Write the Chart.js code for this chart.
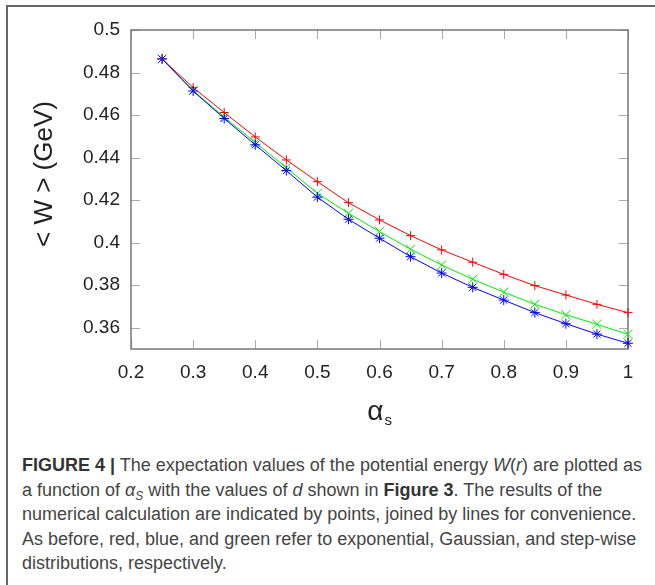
<!DOCTYPE html>
<html>
<head>
<meta charset="utf-8">
<script src="https://cdn.jsdelivr.net/npm/chart.js@4"></script>
<style>
    body { margin: 0; background: #fff; }
    #frame { position: absolute; left: 6px; top: 5px; width: 700px; height: 700px;
             border-left: 2px solid #666; border-top: 2px solid #666; }
    #wrap { position: absolute; left: 0; top: 0; width: 655px; height: 440px; }
    #caption { position: absolute; left: 22px; top: 453px; font-family: "Liberation Sans", Arial, sans-serif;
               font-size: 18px; line-height: 24.5px; color: #444; white-space: nowrap; }
    #caption b { color: #333; }
    #caption sub { font-size: 12px; line-height: 0; vertical-align: baseline; position: relative; top: 4px; }
</style>
</head>
<body>
<div id="frame"></div>
<div id="wrap"><canvas id="wChart"></canvas></div>
<div id="caption">
<b>FIGURE 4 |</b> The expectation values of the potential energy <i>W</i>(<i>r</i>) are plotted as<br>
a function of <i>α<sub>S</sub></i> with the values of <i>d</i> shown in <b>Figure 3</b>. The results of the<br>
numerical calculation are indicated by points, joined by lines for convenience.<br>
As before, red, blue, and green refer to exponential, Gaussian, and step-wise<br>
distributions, respectively.
</div>
<script>
const alphaS = [0.25, 0.3, 0.35, 0.4, 0.45, 0.5, 0.55, 0.6, 0.65, 0.7, 0.75, 0.8, 0.85, 0.9, 0.95, 1.0];
const expW   = [0.4864, 0.4729, 0.4612, 0.4497, 0.4389, 0.4287, 0.4188, 0.4107, 0.4033, 0.3966, 0.3908, 0.3851, 0.3798, 0.3754, 0.3710, 0.3671];
const stepW  = [0.4864, 0.4716, 0.4590, 0.4471, 0.4353, 0.4232, 0.4138, 0.4052, 0.3969, 0.3895, 0.3828, 0.3767, 0.3710, 0.3661, 0.3616, 0.3569];
const gaussW = [0.4864, 0.4713, 0.4584, 0.4460, 0.4339, 0.4214, 0.4110, 0.4021, 0.3934, 0.3857, 0.3790, 0.3730, 0.3671, 0.3619, 0.3570, 0.3527];
const xTicks = [0.2, 0.3, 0.4, 0.5, 0.6, 0.7, 0.8, 0.9, 1];
const yTicks = [0.36, 0.38, 0.4, 0.42, 0.44, 0.46, 0.48, 0.5];

const toPoints = arr => alphaS.map((x, i) => ({x: x, y: arr[i]}));

// gnuplot style box with inward ticks on all four sides
const boxTicks = {
    id: 'boxTicks',
    beforeDatasetsDraw(chart) {
        const {ctx, chartArea: a, scales: {x, y}} = chart;
        ctx.save();
        ctx.strokeStyle = '#aaa';
        ctx.lineWidth = 1;
        ctx.beginPath();
        xTicks.forEach(v => {
            const px = Math.round(x.getPixelForValue(v)) + 0.5;
            ctx.moveTo(px, a.bottom); ctx.lineTo(px, a.bottom - 9);
            ctx.moveTo(px, a.top); ctx.lineTo(px, a.top + 9);
        });
        yTicks.forEach(v => {
            const py = Math.round(y.getPixelForValue(v)) + 0.5;
            ctx.moveTo(a.left, py); ctx.lineTo(a.left + 9, py);
            ctx.moveTo(a.right, py); ctx.lineTo(a.right - 9, py);
        });
        ctx.stroke();
        ctx.strokeStyle = '#777';
        ctx.lineWidth = 1.5;
        ctx.strokeRect(a.left, a.top, a.right - a.left, a.bottom - a.top);
        ctx.restore();
    },
    afterDraw(chart) {
        const {ctx, chartArea: a} = chart;
        ctx.save();
        ctx.fillStyle = '#222';
        ctx.textAlign = 'center';
        ctx.textBaseline = 'middle';
        ctx.font = '26px "Liberation Sans", Arial, sans-serif';
        ctx.translate(45, 174);
        ctx.rotate(-Math.PI / 2);
        ctx.fillText('< W > (GeV)', 0, 0);
        ctx.restore();

        ctx.save();
        ctx.fillStyle = '#222';
        ctx.textBaseline = 'alphabetic';
        const cx = (a.left + a.right) / 2;
        ctx.font = '28px "Liberation Sans", Arial, sans-serif';
        ctx.textAlign = 'right';
        ctx.fillText('α', cx + 4, 420);
        ctx.font = '15px "Liberation Sans", Arial, sans-serif';
        ctx.textAlign = 'left';
        ctx.fillText('s', cx + 5, 425);
        ctx.restore();
    }
};

const tickFont = {family: '"Liberation Sans", Arial, sans-serif', size: 19};

new Chart(document.getElementById('wChart'), {
    type: 'line',
    data: {
        datasets: [{
            label: 'Gaussian',
            data: toPoints(gaussW),
            borderColor: '#0000ff',
            pointStyle: 'star',
            pointRadius: 5
        }, {
            label: 'step-wise',
            data: toPoints(stepW),
            borderColor: '#00ee00',
            pointStyle: 'crossRot',
            pointRadius: 6.5
        }, {
            label: 'exponential',
            data: toPoints(expW),
            borderColor: '#ff0000',
            pointStyle: 'cross',
            pointRadius: 4.5
        }].map(d => Object.assign(d, {
            borderWidth: 1,
            pointBorderColor: d.borderColor,
            pointBackgroundColor: d.borderColor,
            pointBorderWidth: 1,
            tension: 0,
            clip: false
        }))
    },
    options: {
        responsive: true,
        maintainAspectRatio: false,
        animation: false,
        layout: {padding: {top: 30, right: 27, left: 0, bottom: 0}},
        plugins: {legend: {display: false}, tooltip: {enabled: false}},
        scales: {
            x: {
                type: 'linear',
                min: 0.2,
                max: 1,
                afterBuildTicks: s => { s.ticks = xTicks.map(v => ({value: v})); },
                afterFit: s => { s.height = 440 - 349; },
                grid: {display: false, drawTicks: false},
                border: {display: false},
                ticks: {color: '#222', font: tickFont, padding: 12, maxRotation: 0,
                        callback: v => String(v)}
            },
            y: {
                min: 0.35,
                max: 0.5,
                afterBuildTicks: s => { s.ticks = yTicks.map(v => ({value: v})); },
                afterFit: s => { s.width = 131; },
                grid: {display: false, drawTicks: false},
                border: {display: false},
                ticks: {color: '#222', font: tickFont, padding: 11,
                        callback: v => String(v)}
            }
        }
    },
    plugins: [boxTicks]
});
</script>
</body>
</html>
